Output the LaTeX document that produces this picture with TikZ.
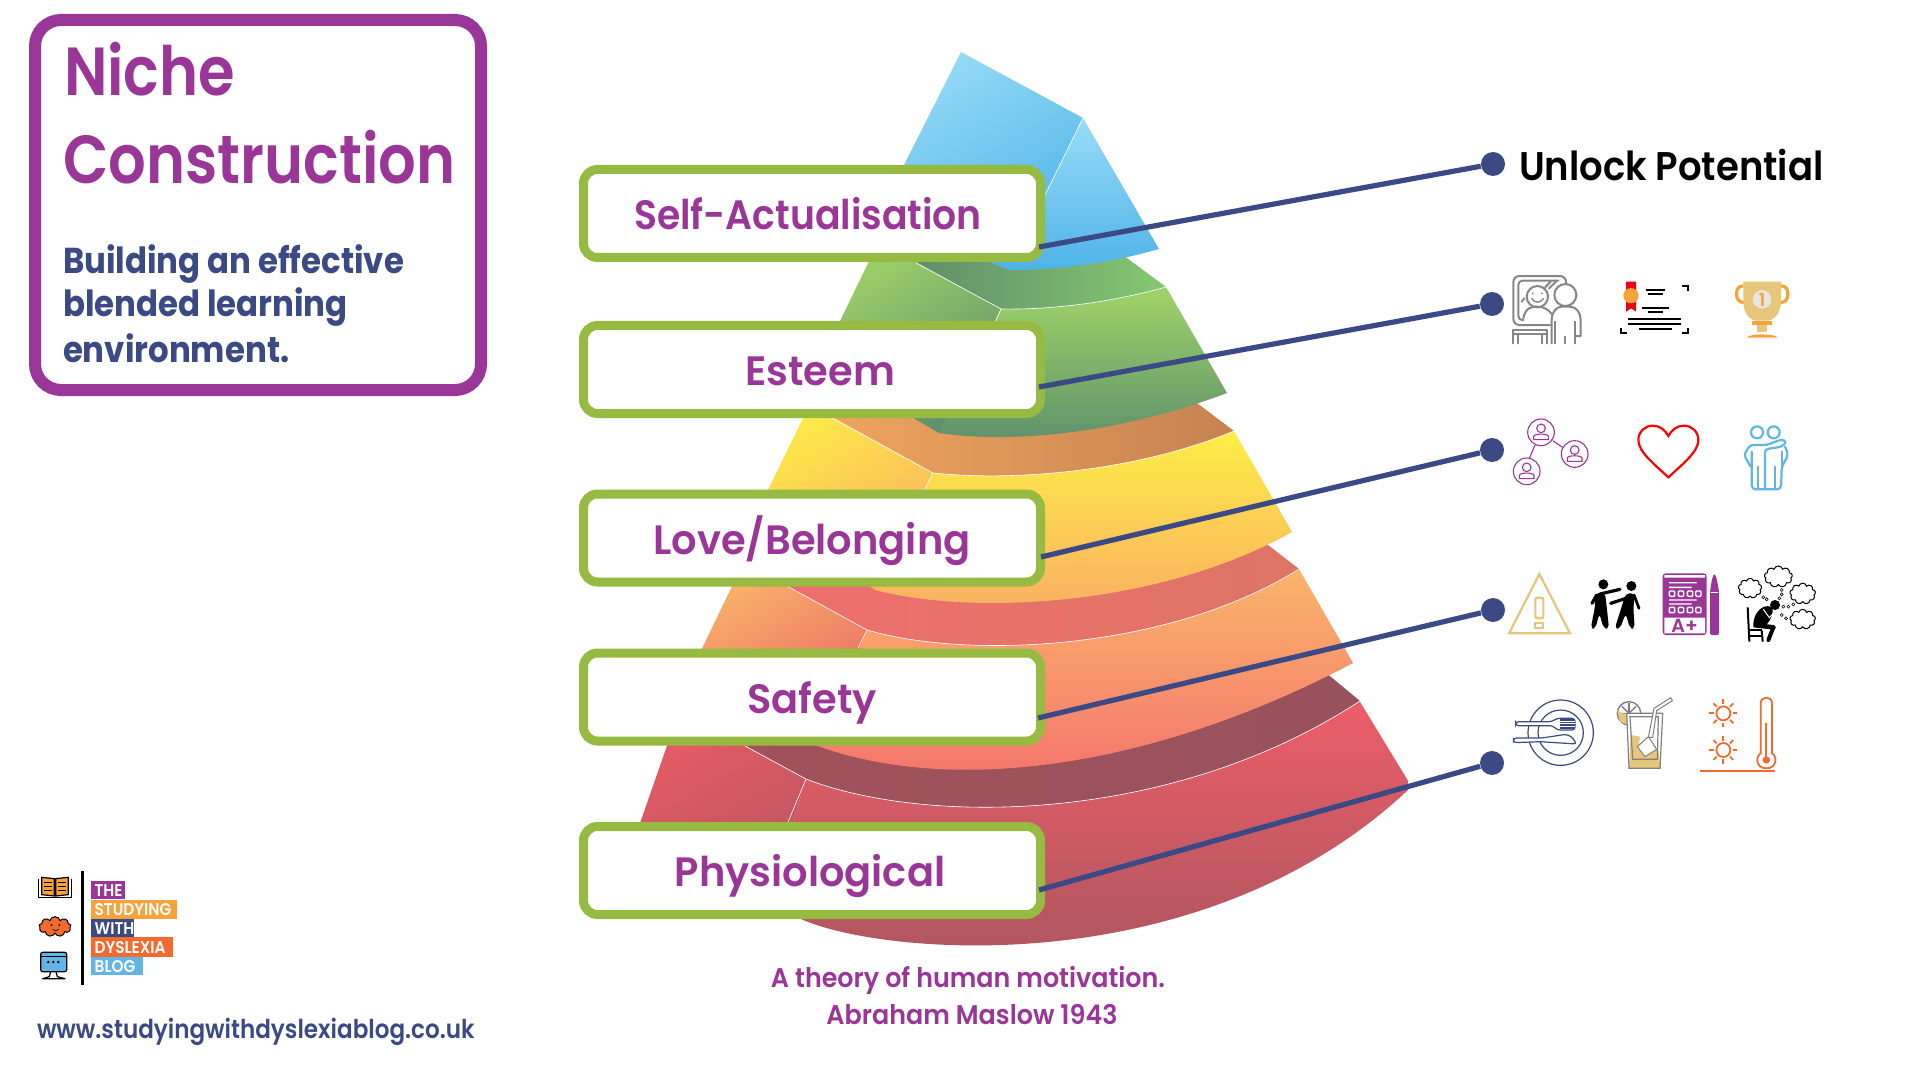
\documentclass[tikz,border=0pt]{standalone}
\usepackage{fontspec}
\usetikzlibrary{shapes.symbols}
\setmainfont{Poppins}
\newfontfamily\popsb{Poppins SemiBold}
\newfontfamily\poplab{Poppins SemiBold}[FakeStretch=0.975]
\newfontfamily\popself{Poppins SemiBold}[FakeStretch=0.92]
\newfontfamily\poptitle{Poppins SemiBold}[FakeStretch=0.87]
\newfontfamily\popsub{Poppins Bold}[FakeStretch=0.9]
\newfontfamily\popunl{Poppins SemiBold}[FakeStretch=0.925]
\newfontfamily\popcap{Poppins SemiBold}[FakeStretch=0.94]
\newfontfamily\popurl{Poppins SemiBold}[FakeStretch=0.888]
\newfontfamily\poplogo{Poppins SemiBold}[FakeStretch=0.9]
\newcommand{\fs}[1]{\fontsize{#1}{#1}\selectfont}
\definecolor{purp}{HTML}{9B3699}
\definecolor{navy}{HTML}{3B4A85}
\definecolor{lgreen}{HTML}{97BA42}
\definecolor{tan1}{HTML}{E8C679}
\definecolor{orng}{HTML}{F5A33A}
\definecolor{rorng}{HTML}{F26A2E}
\definecolor{sky}{HTML}{62B5E5}
\definecolor{ra}{HTML}{E55B65}\definecolor{rb}{HTML}{B7565F}
\definecolor{rc}{HTML}{EC5E68}\definecolor{rd}{HTML}{A7555F}
\definecolor{re}{HTML}{A1525C}\definecolor{rf}{HTML}{98525C}
\definecolor{oa}{HTML}{FAB56A}\definecolor{ob}{HTML}{E86464}
\definecolor{oc}{HTML}{F4706E}
\definecolor{od}{HTML}{F06F6E}\definecolor{oe}{HTML}{DD7565}
\definecolor{ya}{HTML}{FEEE46}\definecolor{yb}{HTML}{F9AE63}
\definecolor{yc}{HTML}{F0A55F}\definecolor{yd}{HTML}{C68351}
\definecolor{ga}{HTML}{A0D468}\definecolor{gb}{HTML}{5E8F6C}
\definecolor{gc}{HTML}{5F8A6A}\definecolor{gd}{HTML}{85C870}
\definecolor{ba}{HTML}{98DCF7}\definecolor{bb}{HTML}{4FB3E8}
\tikzset{
 lvl/.style={draw=lgreen,line width=4.5pt,fill=white,rounded corners=7pt,minimum width=228.5pt,minimum height=44pt,inner sep=0pt,text=purp,font=\poplab\fs{20.5},text height=18pt,text depth=2pt,align=center},
 dotn/.style={circle,fill=navy,minimum size=12pt,inner sep=0pt},
 link/.style={draw=navy,line width=2.6pt},
 seam/.style={draw=white,line width=0.3pt},
 txt/.style={anchor=base west,inner sep=0pt,outer sep=0pt},
 txtc/.style={anchor=base,inner sep=0pt,outer sep=0pt},
 ic/.style={line width=#1,line cap=round,line join=round},
 ic/.default=1pt
}
\begin{document}
\begin{tikzpicture}[x=0.5pt,y=-0.5pt]
\useasboundingbox (0,0) rectangle (1920,1080);
\fill[white] (0,0) rectangle (1920,1080);
% title box
\node[draw=purp,line width=6pt,rounded corners=13pt,minimum width=223pt,minimum height=185pt,inner sep=0pt] (title) at (258,205) {};
\node[txt,text=purp,font=\poptitle\fs{34}] (t1) at (64,96) {Niche};
\node[txt,text=purp,font=\poptitle\fs{34}] (t2) at (63,184) {Construction};
\node[txt,text=navy,font=\popsub\fs{18}] (s1) at (63,274) {Building an effective};
\node[txt,text=navy,font=\popsub\fs{18}] (s2) at (63,317) {blended learning};
\node[txt,text=navy,font=\popsub\fs{18}] (s3) at (63,363) {environment.};
% ---------- pyramid, bottom tier first
\shade[top color=ra,bottom color=rb,shading angle=30] (669,740)--(735,740)--(806,779)--(765,915)--(608,915)--cycle;
\shade[top color=rc,bottom color=rd] (806,779) .. controls (925,825) and (1170,825) .. (1360,701) -- (1408,780) -- (1408,790) .. controls (1200,985) and (880,955) .. (801,919) -- (765,915) -- cycle;
\shade[left color=re,right color=rf] (735,740) -- (806,779) .. controls (925,825) and (1170,825) .. (1360,701) -- (1325,672) -- (1000,660) -- cycle;
\path[seam] (745,746)--(806,779) (806,779)--(788,822) (806,779) .. controls (925,825) and (1170,825) .. (1360,701) (1360,701)--(1408,780);
% orange
\shade[top color=oa,bottom color=ob,shading angle=30] (735,580)--(775,580)--(867,630)--(822,744)--(656,744)--cycle;
\shade[top color=oa,bottom color=oc] (867,630) .. controls (970,660) and (1170,650) .. (1299,569) -- (1353,663) .. controls (1150,770) and (950,795) .. (815,745) -- cycle;
\shade[left color=od,right color=oe] (775,580) -- (867,630) .. controls (970,660) and (1170,650) .. (1299,569) -- (1259,538) -- (1000,520) -- cycle;
\path[seam] (787,586)--(867,630) (867,630)--(858,648) (867,630) .. controls (970,660) and (1170,650) .. (1299,569);
% yellow
\shade[top color=ya,bottom color=yb,shading angle=30] (807,410)--(820,410)--(933,473)--(875,590)--(866,584)--(722,584)--cycle;
\shade[top color=ya,bottom color=yb] (933,473) .. controls (1020,482) and (1140,470) .. (1234,431) -- (1292,532) .. controls (1160,606) and (975,616) .. (875,590) -- cycle;
\shade[left color=yc,right color=yd] (820,410) -- (933,473) .. controls (1020,482) and (1140,470) .. (1234,431) -- (1189,397) -- (1000,380) -- cycle;
\path[seam] (832,418)--(933,473) (933,473)--(925,489) (933,473) .. controls (1020,482) and (1140,470) .. (1234,431);
% green
\shade[top color=ga,bottom color=gb,shading angle=30] (873,253)--(900,253)--(1001,309)--(939,433)--(910,416)--(794,416)--cycle;
\shade[top color=ga,bottom color=gb] (1001,309) .. controls (1060,310) and (1120,300) .. (1166,287) -- (1227,393) .. controls (1130,430) and (1020,445) .. (939,433) -- cycle;
\shade[left color=gc,right color=gd] (900,253) -- (1001,309) .. controls (1060,310) and (1120,300) .. (1166,287) -- (1116,250) -- (1000,240) -- cycle;
\path[seam] (916,263)--(1001,309) (1001,309)--(990,333) (1001,309) .. controls (1060,310) and (1120,300) .. (1166,287);
% blue
\shade[top color=ba,bottom color=bb,shading angle=30] (961,52)--(1083,118)--(1009,270)--(990,262)--(855,262)--cycle;
\shade[top color=ba,bottom color=bb] (1083,118)--(1159,249) .. controls (1110,263) and (1060,270) .. (1009,270)--cycle;
\path[seam] (1083,118)--(1044,197);
% ---------- level boxes
\node[lvl,font=\popself\fs{20.5}] (b1) at (812,213.5) {Self-Actualisation\kern4pt};
\node[lvl] (b2) at (812,369.5) {\kern8pt Esteem};
\node[lvl] (b3) at (812,538) {Love/Belonging};
\node[lvl] (b4) at (812,697) {Safety};
\node[lvl] (b5) at (812,870.5) {Physiological\kern2pt};
% dots
\node[dotn] (d1) at (1493,164) {};
\node[dotn] (d2) at (1492,304) {};
\node[dotn] (d3) at (1492,450) {};
\node[dotn] (d4) at (1493,610) {};
\node[dotn] (d5) at (1492,763) {};
\coordinate (c1) at (1039,247);
\coordinate (c2) at (1039,387);
\coordinate (c3) at (1041,557);
\coordinate (c4) at (1038,718);
\coordinate (c5) at (1039,890);
\draw[link] (c1) -- (d1);
\draw[link] (c2) -- (d2);
\draw[link] (c3) -- (d3);
\draw[link] (c4) -- (d4);
\draw[link] (c5) -- (d5);
\node[txt,text=black,font=\popunl\fs{20}] (unlock) at (1519,181) {Unlock Potential};
% caption
\node[txtc,text=purp,font=\popcap\fs{13.5}] (cap1) at (968,987) {A theory of human motivation.};
\node[txtc,text=purp,font=\popcap\fs{13.5}] (cap2) at (972,1024) {Abraham Maslow 1943};
\node[txt,text=navy,font=\popurl\fs{13}] (url) at (37,1038) {www.studyingwithdyslexiablog.co.uk};
% ---------- logo (zoom coordinates)
\begin{scope}[shift={(20,860)},x=0.16667pt,y=-0.16667pt]
 \fill[black] (182,33) rectangle (191,375);
 \fill[purp] (213,62) rectangle (315,118);
 \fill[orng] (213,120) rectangle (472,176);
 \fill[navy] (213,176) rectangle (343,232);
 \fill[rorng] (213,232) rectangle (459,290);
 \fill[sky] (213,290) rectangle (370,346);
 \node[txt,text=white,font=\poplogo\fs{8.5}] (l1) at (224,108) {THE};
 \node[txt,text=white,font=\poplogo\fs{8.5}] (l2) at (224,166) {STUDYING};
 \node[txt,text=white,font=\poplogo\fs{8.5}] (l3) at (224,222) {WITH};
 \node[txt,text=white,font=\poplogo\fs{8.5}] (l4) at (224,280) {DYSLEXIA};
 \node[txt,text=white,font=\poplogo\fs{8.5}] (l5) at (224,336) {BLOG};
 % book
 \draw[ic=0.6pt,fill=white] (55,58)--(55,113)--(155,113)--(155,58);
 \draw[ic=0.6pt,fill=orng] (65,52)--(103,56)--(103,108)--(65,104)--cycle;
 \draw[ic=0.6pt,fill=orng] (145,52)--(107,56)--(107,108)--(145,104)--cycle;
 \foreach \yy in {68,80,92}{\draw[line width=0.3pt] (72,\yy)--(97,\yy) (113,\yy)--(138,\yy);}
 % brain
 \node[cloud,cloud puffs=9,aspect=1.5,draw=black,line width=0.5pt,fill=rorng,minimum width=16pt,minimum height=10pt,inner sep=0pt] (brain) at (105,200) {};
 \fill (95,195) circle (3) (118,195) circle (3);
 \draw[line width=0.3pt] (98,208) .. controls (104,214) and (110,214) .. (116,208);
 % monitor
 \draw[ic=0.6pt,fill=sky,rounded corners=1pt] (62,277) rectangle (140,335);
 \draw[ic=0.6pt] (62,290)--(140,290);
 \fill (85,306) circle (4) (100,306) circle (4) (115,306) circle (4);
 \draw[ic=0.6pt] (92,335)--(88,350)--(68,356)--(135,356)--(112,350)--(108,335);
\end{scope}
% ---------- icons, zoom 3 frame
\begin{scope}[shift={(1480,130)},x=0.16667pt,y=-0.16667pt]
 \begin{scope}[draw=gray!95!white,ic]
  \draw[rounded corners=3pt] (258,468)--(258,438)--(100,438)--(100,585)--(210,585);
  \draw[rounded corners=2pt] (235,452)--(115,452)--(115,570)--(130,570);
  \draw (172,500) circle (32);
  \fill[gray] (158,490) circle (3) (186,490) circle (3);
  \draw[line width=.7pt] (155,506) .. controls (165,520) and (180,520) .. (190,506);
  \draw (130,565) .. controls (135,535) and (155,528) .. (172,530) .. controls (190,530) and (205,538) .. (215,552);
  \draw (195,472)--(212,455) (207,475)--(228,455) (125,515)--(133,505);
  \draw[fill=white] (256,495) circle (33);
  \draw (215,640)--(215,570) .. controls (215,545) and (230,530) .. (245,530)--(270,530) .. controls (290,530) and (302,550) .. (302,570)--(302,618)--(286,618);
  \draw (225,575)--(225,640) (255,620)--(255,640) (286,575)--(286,640);
  \draw (100,640)--(100,600)--(200,600)--(200,640) (100,612)--(200,612) (115,612)--(115,640) (185,612)--(185,640);
 \end{scope}
 % certificate
 \fill[red!70!purple] (438,455)--(468,455)--(468,545)--(453,535)--(438,545)--cycle;
 \fill[orng] (453,497) circle (23);
 \draw[line width=1pt] (497,481)--(555,481) (505,492)--(548,492) (485,535)--(567,535) (505,547)--(548,547) (445,566)--(603,566) (445,581)--(603,581) (478,598)--(575,598);
 \draw[line width=1.1pt] (607,468)--(623,468)--(623,483) (423,595)--(423,610)--(440,610) (607,610)--(623,610)--(623,595);
 % trophy
 \draw[orng,line width=1.6pt,rounded corners=3pt] (790,468)--(770,468)--(770,515)--(795,518) (903,468)--(923,468)--(923,515)--(898,518);
 \fill[tan1] (790,455)--(903,455)--(903,515) .. controls (903,550) and (880,572) .. (862,572)--(830,572) .. controls (810,572) and (790,550) .. (790,515)--cycle;
 \fill[tan1] (830,584) rectangle (862,606);
 \fill[orng] (817,573) rectangle (876,584);
 \fill[orng] (800,623) .. controls (808,610) and (885,610) .. (893,623)--cycle;
 \fill[black!10] (846,508) circle (28);
 \node[text=orng,font=\popsb\fs{9},inner sep=0pt] (one) at (846,509) {1};
 % network
 \begin{scope}[draw=purp,line width=0.55pt]
  \draw (218,932)--(248,952) (165,945)--(148,985);
  \foreach \cx/\cy in {183/907,284/972,140/1024}{
   \draw (\cx,\cy) circle (40);
   \draw (\cx,{\cy-12}) circle (13);
   \draw ({\cx-22},{\cy+22})--({\cx-22},{\cy+12}) .. controls ({\cx-20},{\cy+3}) and ({\cx+20},{\cy+3}) .. ({\cx+22},{\cy+12})--({\cx+22},{\cy+22})--cycle;
  }
 \end{scope}
 % heart
 \draw[red,line width=1.1pt,line join=miter] (565,1042) .. controls (520,1000) and (475,965) .. (475,930) .. controls (475,905) and (495,887) .. (518,887) .. controls (540,887) and (555,900) .. (565,918) .. controls (575,900) and (590,887) .. (612,887) .. controls (635,887) and (655,905) .. (655,930) .. controls (655,965) and (610,1000) .. (565,1042) -- cycle;
 % friends
 \begin{scope}[draw=sky,ic=1.1pt]
  \draw (831,907) circle (18) (881,907) circle (18);
  \draw[rounded corners=1.5pt] (855,1075)--(855,958)--(905,950)--(920,935)--(905,928)--(860,945)--(810,945)--(792,975)--(812,1010);
  \draw[rounded corners=2pt] (815,965)--(815,1078)--(903,1078)--(905,1010)--(925,975)--(915,950);
  \draw (835,1010)--(835,1078) (885,1010)--(885,1078) (905,965)--(905,1010);
 \end{scope}
\end{scope}
% ---------- icons, zoom 4 frame
\begin{scope}[shift={(1480,550)},x=0.16667pt,y=-0.16667pt]
 % warning
 \draw[tan1,line width=1.1pt,line join=miter] (178,72)--(270,250)--(87,250)--cycle;
 \draw[tan1,line width=1.1pt,rounded corners=1pt] (166,143) rectangle (190,205);
 \draw[tan1,line width=1.1pt] (166,218) rectangle (190,235);
 % pushing figures
 \fill (370,103) circle (15) (454,108) circle (15);
 \fill[rounded corners=2pt] (345,130)--(375,128)--(380,170)--(387,236)--(371,236)--(358,190)--(346,236)--(332,236)--(345,170)--cycle;
 \fill[rounded corners=2pt] (437,130)--(465,130)--(460,175)--(464,236)--(450,236)--(437,190)--(420,236)--(404,236)--(425,170)--cycle;
 \draw[line width=1.6pt,line cap=round] (360,132)--(420,118) (350,135)--(336,160) (435,146)--(392,160);
 \draw[line width=1.4pt,line cap=round] (462,135)--(477,175);
 % gradebook
 \fill[purp,rounded corners=1.5pt] (548,70) rectangle (680,255);
 \fill[white] (553,203) rectangle (675,250) (553,75) rectangle (675,83);
 \fill[white] (567,96) rectangle (650,100) (567,110) rectangle (635,114) (567,148) rectangle (650,152) (567,160) rectangle (635,164);
 \foreach \xx in {576,603,630,655}{\draw[white,line width=0.7pt,rounded corners=0.5pt] ({\xx-8},123) rectangle ({\xx+8},139) ({\xx-8},172) rectangle ({\xx+8},188);}
 \node[text=purp,font=\popsb\fs{9.5},inner sep=0pt] (aplus) at (614,227) {A+};
 \fill[purp,rounded corners=1pt] (690,125)--(696,85)--(703,70)--(710,85)--(717,125)--(717,255)--(690,255)--cycle;
 \draw[white,line width=0.3pt] (692,128)--(715,128);
 % thinker
 \foreach \cn/\cx/\cy/\cw/\ch in {ca/810/115/11.7/10,cb/895/80/14/10.7,cc/968/131/12.8/10.5,cd/968/208/12.8/10}{
  \node[cloud,cloud puffs=9,aspect=1.3,draw=black,line width=0.5pt,minimum width=\cw pt,minimum height=\ch pt,inner sep=0pt] (\cn) at (\cx,\cy) {};
 }
 \foreach \bx/\by in {850/142,860/148,905/120,905/133,898/145,910/170,925/170,940/163,905/195,918/205}{\draw[line width=0.3pt] (\bx,\by) circle (4.5);}
 \fill (885,165) circle (15);
 \fill (852,170) .. controls (870,165) and (880,172) .. (878,185) .. controls (875,205) and (865,222) .. (850,232)--(820,232) .. controls (818,205) and (830,180) .. (852,170)--cycle;
 \draw[line width=2.3pt,line cap=round] (828,226)--(880,232);
 \draw[line width=2pt,line cap=round] (880,232)--(865,270);
 \draw[white,line width=0.5pt] (850,178)--(868,203)--(885,185);
 \draw[line width=1pt] (803,172)--(808,275) (845,242)--(848,275);
 \draw[line width=0.6pt] (808,240)--(845,240) (808,258)--(846,258);
 % plate
 \draw[navy,line width=0.6pt] (242,548) circle (98) (242,548) circle (68);
 \draw[navy,line width=0.6pt,fill=white,rounded corners=1.5pt] (107,515)--(215,515)--(230,505)--(285,505)--(285,540)--(232,540)--(218,527)--(107,527)--cycle;
 \fill[navy] (240,507) rectangle (284,538);
 \foreach \yy in {514,521,528}{\draw[white,line width=0.2pt] (240,\yy)--(284,\yy);}
 \draw[navy,line width=0.6pt,fill=white,rounded corners=1.5pt] (100,564)--(185,564)--(258,553)--(275,560)--(290,582)--(180,575)--(100,578)--cycle;
 % drink
 \draw[gray,line width=0.7pt,fill=white] (447,490) circle (35);
 \foreach \aa in {0,45,...,315}{\draw[gray,line width=0.7pt] (447,490)--++(\aa:30);}
 \fill[tan1] (412,480)--(420,515)--(445,525)--(445,500)--cycle;
 \fill[white] (440,490) rectangle (548,560);
 \fill[tan1] (452,555)--(480,560)--(475,600)--(535,600)--(542,655)--(447,655)--cycle;
 \draw[gray,line width=0.6pt] (440,490)--(548,490)--(540,655)--(447,655)--cycle (450,500)--(535,500)--(532,628)--(458,628)--cycle;
 \draw[gray,line width=0.5pt,fill=white] (472,590)--(505,560)--(530,598)--(495,620)--cycle;
 \draw[gray,line width=0.5pt,fill=white] (505,562)--(522,475)--(572,443)--(577,452)--(530,482)--(518,562)--cycle;
 % thermometer and suns
 \begin{scope}[draw=rorng,line width=0.9pt]
  \foreach \sy in {490,600}{
   \draw (730,\sy) circle (21);
   \foreach \aa in {0,45,...,315}{\draw (730,\sy) ++(\aa:28) -- ++(\aa:14);}
  }
  \draw (842,610)--(842,460) .. controls (842,437) and (876,437) .. (876,460)--(876,610) .. controls (893,620) and (890,655) .. (859,655) .. controls (828,655) and (825,620) .. (842,610)--cycle;
  \draw[line width=1pt] (859,520)--(859,630);
  \draw[line width=1pt] (660,664)--(885,664);
 \end{scope}
 \fill[rorng] (859,630) circle (11);
\end{scope}
\end{tikzpicture}
\end{document}
